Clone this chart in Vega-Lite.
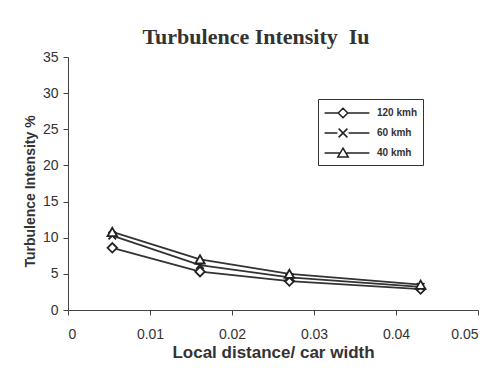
{
  "$schema": "https://vega.github.io/schema/vega-lite/v6.json",
  "width": 410,
  "height": 253,
  "autosize": {"type": "none"},
  "padding": {"left": 68, "top": 57, "right": 23, "bottom": 64},
  "background": "white",
  "title": {
    "text": "Turbulence Intensity\u00a0 Iu",
    "font": "Liberation Serif",
    "fontSize": 22,
    "fontWeight": "bold",
    "color": "#333333",
    "anchor": "middle",
    "dx": -17,
    "offset": 1
  },
  "data": {
    "values": [
      {"x": 0.0054, "y": 8.6, "series": "120 kmh"},
      {"x": 0.0161, "y": 5.3, "series": "120 kmh"},
      {"x": 0.027, "y": 4.0, "series": "120 kmh"},
      {"x": 0.043, "y": 2.9, "series": "120 kmh"},
      {"x": 0.0054, "y": 10.3, "series": "60 kmh"},
      {"x": 0.0161, "y": 6.2, "series": "60 kmh"},
      {"x": 0.027, "y": 4.5, "series": "60 kmh"},
      {"x": 0.043, "y": 3.2, "series": "60 kmh"},
      {"x": 0.0054, "y": 10.8, "series": "40 kmh"},
      {"x": 0.0161, "y": 7.0, "series": "40 kmh"},
      {"x": 0.027, "y": 5.0, "series": "40 kmh"},
      {"x": 0.043, "y": 3.5, "series": "40 kmh"}
    ]
  },
  "encoding": {
    "x": {
      "field": "x",
      "type": "quantitative",
      "scale": {"domain": [0, 0.05], "nice": false},
      "axis": {
        "values": [0, 0.01, 0.02, 0.03, 0.04, 0.05],
        "format": "~g",
        "title": "Local distance/ car width",
        "titleFont": "Liberation Sans",
        "titleFontSize": 17,
        "titleFontWeight": "bold",
        "titleColor": "#333333",
        "titlePadding": 3,
        "labelFont": "Liberation Sans",
        "labelFontSize": 14,
        "labelColor": "#333333",
        "labelPadding": 12,
        "tickSize": 5,
        "tickColor": "#444444",
        "domainColor": "#444444",
        "grid": false
      }
    },
    "y": {
      "field": "y",
      "type": "quantitative",
      "scale": {"domain": [0, 35], "nice": false},
      "axis": {
        "values": [0, 5, 10, 15, 20, 25, 30, 35],
        "title": "Turbulence Intensity %",
        "titleFont": "Liberation Sans",
        "titleFontSize": 14,
        "titleFontWeight": "bold",
        "titleColor": "#333333",
        "titleX": -38,
        "titleY": 134,
        "titleAngle": -90,
        "titleBaseline": "middle",
        "labelFont": "Liberation Sans",
        "labelFontSize": 14,
        "labelColor": "#333333",
        "labelPadding": 5,
        "tickSize": 5,
        "tickColor": "#444444",
        "domainColor": "#444444",
        "grid": false
      }
    }
  },
  "layer": [
    {
      "mark": {"type": "line", "color": "#333333", "strokeWidth": 1.8},
      "encoding": {"detail": {"field": "series"}}
    },
    {
      "mark": {"type": "point", "filled": false, "fill": "white", "fillOpacity": 1, "stroke": "#222222", "strokeWidth": 1.8, "size": 90, "opacity": 1},
      "encoding": {
        "shape": {
          "field": "series",
          "type": "nominal",
          "scale": {
            "domain": ["120 kmh", "60 kmh", "40 kmh"],
            "range": ["diamond", "M-0.8,-0.8L0.8,0.8M-0.8,0.8L0.8,-0.8", "triangle-up"]
          },
          "legend": null
        }
      }
    },
    {
      "mark": {"type": "point", "opacity": 0, "size": 10},
      "encoding": {
        "shape": {
          "field": "series",
          "type": "nominal",
          "scale": {
            "domain": ["120 kmh", "60 kmh", "40 kmh"],
            "range": [
              "M-2.8,0L-1.1,0M0.1,0L2.8,0M-0.5,-0.6L0.1,0L-0.5,0.6L-1.1,0Z",
              "M-2.8,0L-1.2,0M0.2,0L2.8,0M-1.05,-0.55L0.05,0.55M-1.05,0.55L0.05,-0.55",
              "M-2.8,0L-0.85,0M-0.15,0L2.8,0M-0.5,-0.6L0.15,0.5L-1.15,0.5Z"
            ]
          },
          "legend": {
            "title": null,
            "orient": "none",
            "legendX": 250,
            "legendY": 42,
            "symbolSize": 256,
            "symbolOffset": 15,
            "symbolOpacity": 1,
            "symbolFillColor": "white",
            "symbolStrokeColor": "#222222",
            "symbolStrokeWidth": 1.5,
            "labelFont": "Liberation Sans",
            "labelFontSize": 10,
            "labelFontWeight": "bold",
            "labelColor": "#333333",
            "labelOffset": 21,
            "rowPadding": 3,
            "strokeColor": "#333333",
            "padding": 5,
            "fillColor": "white"
          }
        }
      }
    }
  ],
  "resolve": {"scale": {"shape": "independent"}},
  "config": {"view": {"stroke": null}}
}
